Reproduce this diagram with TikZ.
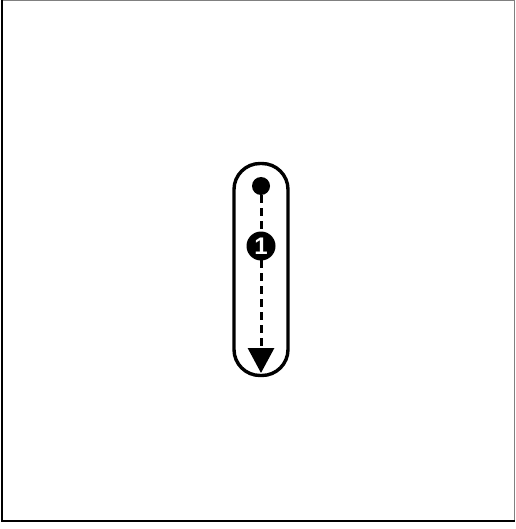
\documentclass[tikz,border=0pt]{standalone}
\usepackage{fontspec}
\setsansfont{Liberation Sans}
\usetikzlibrary{arrows.meta}
\begin{document}
\begin{tikzpicture}[x=1pt, y=-1pt]
    % Node styles
    \tikzset{lane box/.style={draw, line width=3.4pt, rounded corners=26pt, minimum width=54pt, minimum height=212pt, inner sep=0pt},
             start dot/.style={circle, fill=black, minimum size=18pt, inner sep=0pt},
             step badge/.style={circle, fill=black, text=white, minimum size=29pt, inner sep=0pt, font=\sffamily\bfseries\fontsize{24}{24}\selectfont}}
    \useasboundingbox (0,0) rectangle (515,529);

    % Frame
    \draw[gray, line width=1pt] (2,0.5) rectangle (514.5,521);
    \draw[line width=2.4pt] (2,0) -- (2,521) -- (515,521);

    % Lane with start point and end point
    \node[lane box] (lane) at (261,269.5) {};
    \node[start dot] (start) at (261,186) {};
    \coordinate (end) at (261,373);

    % Dashed flow from start to end
    \draw[dash pattern=on 8pt off 5pt, line width=3pt, -{Triangle[length=25pt, width=26pt]}] (start) -- (end);

    % Step number
    \node[step badge] (step1) at (261,246) {1};
\end{tikzpicture}
\end{document}
